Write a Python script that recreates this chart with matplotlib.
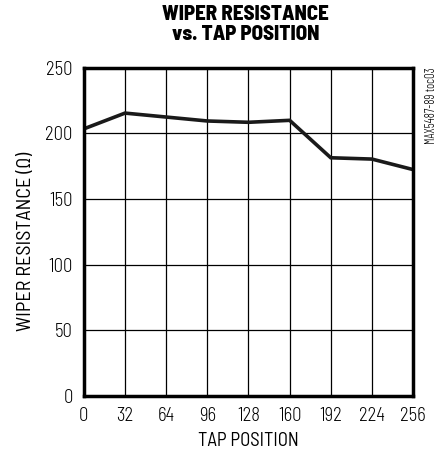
import matplotlib
matplotlib.use("Agg")
import matplotlib.pyplot as plt

# --- DATA ---
tap_position = [0, 32, 64, 96, 128, 160, 192, 224, 256]
wiper_resistance = [203.5, 215.5, 212.5, 209.5, 208.5, 210, 181.5, 180.5, 172.5]
x_ticks = [0, 32, 64, 96, 128, 160, 192, 224, 256]
y_ticks = [0, 50, 100, 150, 200, 250]

plt.rcParams['font.family'] = ['Barlow Semi Condensed', 'DejaVu Sans']
plt.rcParams['font.weight'] = 300

fig = plt.figure(figsize=(4.39, 4.58), dpi=100)
ax = fig.add_axes([0.191, 0.135, 0.750, 0.717])

ax.plot(tap_position, wiper_resistance, color='#1a1a1a', linewidth=2.6, solid_joinstyle='miter')

ax.set_xlim(0, 256)
ax.set_ylim(0, 250)
ax.set_xticks(x_ticks)
ax.set_yticks(y_ticks)
ax.grid(True, color='black', linewidth=0.9)
ax.tick_params(length=0, labelsize=13.5, pad=8)

for s in ax.spines.values():
    s.set_linewidth(2.5)

ax.set_xlabel('TAP POSITION', fontsize=13.5, labelpad=5)
ax.set_ylabel('WIPER RESISTANCE (Ω)', fontsize=14.5)
ax.yaxis.set_label_coords(-0.148, 0.47)

fig.text(0.56, 0.988, 'WIPER RESISTANCE\nvs. TAP POSITION', ha='center', va='top',
         fontsize=15, fontweight=800, linespacing=1.05)
fig.text(0.982, 0.852, 'MAX5487-89 toc03', rotation=90, ha='center', va='top',
         fontsize=9, family=['Barlow Condensed', 'DejaVu Sans'])

fig.savefig('out.png', dpi=100)
